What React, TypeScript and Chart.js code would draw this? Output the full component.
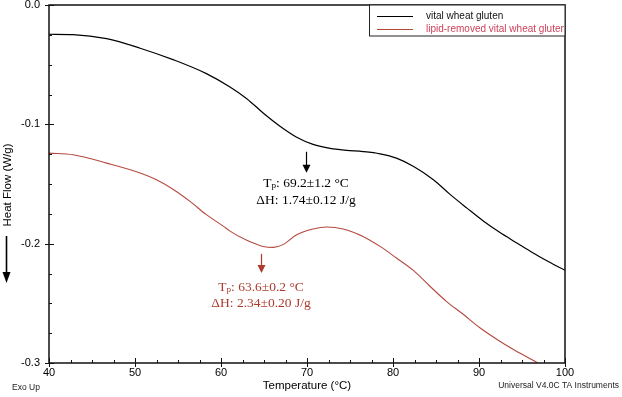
import React, { useEffect, useRef } from "react";
import { Chart, registerables } from "chart.js";

Chart.register(...registerables);

// ---- data ----
const blackTemps = [40, 42.8, 46.7, 50.6, 54.5, 58.3, 61.0, 63.0, 64.9, 66.9, 68.8, 70.7, 72.7, 74.6, 76.5, 78.5, 80.4, 82.4, 84.7, 86.6, 88.6, 90.5, 92.4, 94.4, 96.3, 98.1, 100];
const blackHeat = [-0.0245, -0.0248, -0.0282, -0.0362, -0.046, -0.0575, -0.0685, -0.0785, -0.0905, -0.1018, -0.1108, -0.1168, -0.1202, -0.1218, -0.1228, -0.1247, -0.1283, -0.1353, -0.1464, -0.1585, -0.1702, -0.1810, -0.1905, -0.1994, -0.2078, -0.2152, -0.2223];

const redTemps = [40, 42.8, 46.7, 50.6, 52.5, 54.5, 56.4, 58.3, 60.3, 61.0, 63.0, 64.9, 66.1, 67.2, 68.8, 70.7, 72.3, 74.2, 76.5, 78.5, 80.4, 82.4, 84.3, 86.2, 88.2, 90.1, 92.1, 94.0, 96.5, 97.2];
const redHeat = [-0.1241, -0.1255, -0.1325, -0.1408, -0.1465, -0.1548, -0.1646, -0.1757, -0.1855, -0.1893, -0.1972, -0.2023, -0.2031, -0.2008, -0.1925, -0.1877, -0.186, -0.1877, -0.1939, -0.2023, -0.212, -0.2226, -0.2357, -0.2483, -0.2594, -0.2705, -0.2803, -0.2887, -0.2985, -0.3015];

const seriesNames = ["vital wheat gluten", "lipid-removed vital wheat gluten"];
const xLabel = "Temperature (°C)";
const yLabel = "Heat Flow (W/g)";
const xMin = 40, xMax = 100, xStep = 10, xMinor = 2.5;
const yMin = -0.3, yMax = 0, yStep = 0.1, yMinor = 0.025;
const footLeft = "Exo Up";
const footRight = "Universal V4.0C TA Instruments";

const blackNote = { t: 69.9, top: -0.123, tip: -0.1405, tp: "69.2±1.2 °C", dh: "1.74±0.12 J/g" };
const redNote = { t: 64.6, top: -0.2085, tip: -0.2245, tp: "63.6±0.2 °C", dh: "2.34±0.20 J/g" };

const BLACK = "#000000";
const RED_LINE = "#b5493e";
const RED_TEXT = "#ad3b2e";
const RED_LEGEND = "#d0405a";
const SANS = "'Liberation Sans', Arial, sans-serif";
const SERIF = "'Liberation Serif', 'Times New Roman', serif";

function drawArrowDown(ctx: CanvasRenderingContext2D, x: number, y1: number, y2: number, color: string, head = 8, hw = 4) {
  ctx.save();
  ctx.strokeStyle = color;
  ctx.fillStyle = color;
  ctx.lineWidth = 1.2;
  ctx.beginPath();
  ctx.moveTo(x, y1);
  ctx.lineTo(x, y2 - head + 1);
  ctx.stroke();
  ctx.beginPath();
  ctx.moveTo(x - hw, y2 - head);
  ctx.lineTo(x + hw, y2 - head);
  ctx.lineTo(x, y2);
  ctx.closePath();
  ctx.fill();
  ctx.restore();
}

function drawNote(ctx: CanvasRenderingContext2D, cx: number, cy: number, tp: string, dh: string, color: string, gap: number) {
  const fs = 13.5;
  ctx.save();
  ctx.fillStyle = color;
  ctx.textBaseline = "middle";
  ctx.textAlign = "left";
  const big = `${fs}px ${SERIF}`;
  const small = `${fs * 0.68}px ${SERIF}`;
  ctx.font = big;
  const wT = ctx.measureText("T").width;
  const rest = ": " + tp;
  const wRest = ctx.measureText(rest).width;
  ctx.font = small;
  const wP = ctx.measureText("p").width;
  const total = wT + wP + wRest;
  let x = cx - total / 2;
  ctx.font = big;
  ctx.fillText("T", x, cy);
  x += wT;
  ctx.font = small;
  ctx.fillText("p", x, cy + 3);
  x += wP;
  ctx.font = big;
  ctx.fillText(rest, x, cy);
  ctx.textAlign = "center";
  ctx.fillText("ΔH: " + dh, cx, cy + gap);
  ctx.restore();
}

const decorPlugin = {
  id: "decor",
  afterDraw(chart: any) {
    const ctx: CanvasRenderingContext2D = chart.ctx;
    const { left, right, top, bottom } = chart.chartArea;
    const xs = chart.scales.x;
    const ys = chart.scales.y;
    ctx.save();
    // frame
    ctx.strokeStyle = "#111";
    ctx.lineWidth = 1.5;
    ctx.strokeRect(left, top, right - left, bottom - top);
    // ticks
    ctx.lineWidth = 1;
    ctx.beginPath();
    for (let v = xMin; v <= xMax + 1e-9; v += xMinor) {
      const px = Math.round(xs.getPixelForValue(v)) + 0.5;
      const major = Math.abs((v - xMin) % xStep) < 1e-6;
      ctx.moveTo(px, major ? bottom + 4 : bottom);
      ctx.lineTo(px, major ? bottom - 5 : bottom - 3);
    }
    for (let v = yMin; v <= yMax + 1e-9; v += yMinor) {
      const py = Math.round(ys.getPixelForValue(v)) + 0.5;
      const k = Math.round((v - yMin) / yMinor);
      const major = k % 4 === 0;
      ctx.moveTo(major ? left - 4 : left, py);
      ctx.lineTo(major ? left + 5 : left + 3, py);
    }
    ctx.stroke();

    // legend box
    const lx = 369.5, ly = top, lw = right - 369.5, lh = 31;
    ctx.fillStyle = "#fff";
    ctx.fillRect(lx, ly, lw, lh);
    ctx.strokeStyle = "#222";
    ctx.lineWidth = 1;
    ctx.strokeRect(lx, ly, lw, lh);
    ctx.beginPath();
    ctx.strokeStyle = BLACK;
    ctx.moveTo(377, 16.5);
    ctx.lineTo(413, 16.5);
    ctx.stroke();
    ctx.beginPath();
    ctx.strokeStyle = RED_LINE;
    ctx.moveTo(377, 29.5);
    ctx.lineTo(413, 29.5);
    ctx.stroke();
    ctx.save();
    ctx.beginPath();
    ctx.rect(lx, ly, lw - 1, lh);
    ctx.clip();
    ctx.font = `10px ${SANS}`;
    ctx.textAlign = "left";
    ctx.textBaseline = "middle";
    ctx.fillStyle = "#111";
    ctx.fillText(seriesNames[0], 426, 16);
    ctx.fillStyle = RED_LEGEND;
    ctx.fillText(seriesNames[1], 426, 29);
    ctx.restore();

    // axis titles
    ctx.fillStyle = "#000";
    ctx.font = `11.5px ${SANS}`;
    ctx.textAlign = "center";
    ctx.textBaseline = "middle";
    ctx.fillText(xLabel, (left + right) / 2, 386);
    ctx.save();
    ctx.translate(8, 185);
    ctx.rotate(-Math.PI / 2);
    ctx.fillText(yLabel, 0, 0);
    ctx.restore();
    // exo arrow
    ctx.strokeStyle = "#000";
    ctx.lineWidth = 1.6;
    ctx.beginPath();
    ctx.moveTo(6.5, 236);
    ctx.lineTo(6.5, 274);
    ctx.stroke();
    ctx.beginPath();
    ctx.moveTo(2.5, 272);
    ctx.lineTo(10.5, 272);
    ctx.lineTo(6.5, 283);
    ctx.closePath();
    ctx.fillStyle = "#000";
    ctx.fill();

    // footers
    ctx.font = `8.5px ${SANS}`;
    ctx.fillStyle = "#222";
    ctx.textAlign = "left";
    ctx.fillText(footLeft, 12, 388);
    ctx.textAlign = "right";
    ctx.fillText(footRight, 619, 386);

    // annotations
    const bx = Math.round(xs.getPixelForValue(blackNote.t)) + 0.5;
    drawArrowDown(ctx, bx, ys.getPixelForValue(blackNote.top), ys.getPixelForValue(blackNote.tip), "#000");
    drawNote(ctx, bx - 0.5, 183, blackNote.tp, blackNote.dh, "#000", 17);
    const rx = Math.round(xs.getPixelForValue(redNote.t)) + 0.5;
    drawArrowDown(ctx, rx, ys.getPixelForValue(redNote.top), ys.getPixelForValue(redNote.tip), RED_TEXT);
    drawNote(ctx, rx - 0.5, 287, redNote.tp, redNote.dh, RED_TEXT, 16);
    ctx.restore();
  },
};

export default function App() {
  const ref = useRef<HTMLCanvasElement | null>(null);
  useEffect(() => {
    document.body.style.margin = "0";
    const canvas = ref.current;
    if (!canvas) return;
    const chart = new Chart(canvas, {
      type: "line",
      data: {
        datasets: [
          {
            label: seriesNames[0],
            data: blackTemps.map((t, i) => ({ x: t, y: blackHeat[i] })),
            borderColor: BLACK,
            borderWidth: 1.2,
            pointRadius: 0,
            cubicInterpolationMode: "monotone",
            fill: false,
          },
          {
            label: seriesNames[1],
            data: redTemps.map((t, i) => ({ x: t, y: redHeat[i] })),
            borderColor: RED_LINE,
            borderWidth: 1.1,
            pointRadius: 0,
            cubicInterpolationMode: "monotone",
            fill: false,
          },
        ],
      },
      options: {
        animation: false,
        responsive: false,
        devicePixelRatio: 1,
        layout: { padding: { top: 5, right: 57, left: 0, bottom: 0 } },
        plugins: { legend: { display: false }, tooltip: { enabled: false }, title: { display: false } },
        scales: {
          x: {
            type: "linear",
            min: xMin,
            max: xMax,
            grid: { display: false, drawTicks: false },
            border: { display: false },
            ticks: {
              stepSize: xStep,
              autoSkip: false,
              maxRotation: 0,
              padding: 3,
              color: "#000",
              font: { family: SANS, size: 11 },
            },
            afterFit: (s: any) => { s.height = 34; s.paddingLeft = 0; s.paddingRight = 0; },
          },
          y: {
            type: "linear",
            min: yMin,
            max: yMax,
            grid: { display: false, drawTicks: false },
            border: { display: false },
            ticks: {
              stepSize: yStep,
              autoSkip: false,
              padding: 9,
              color: "#000",
              font: { family: SANS, size: 11 },
              callback: (v: any) => Number(v).toFixed(1),
            },
            afterFit: (s: any) => { s.width = 49; s.paddingTop = 0; s.paddingBottom = 0; },
          },
        },
      },
      plugins: [decorPlugin],
    });
    return () => chart.destroy();
  }, []);
  return <canvas ref={ref} width={622} height={397} style={{ display: "block" }} />;
}
